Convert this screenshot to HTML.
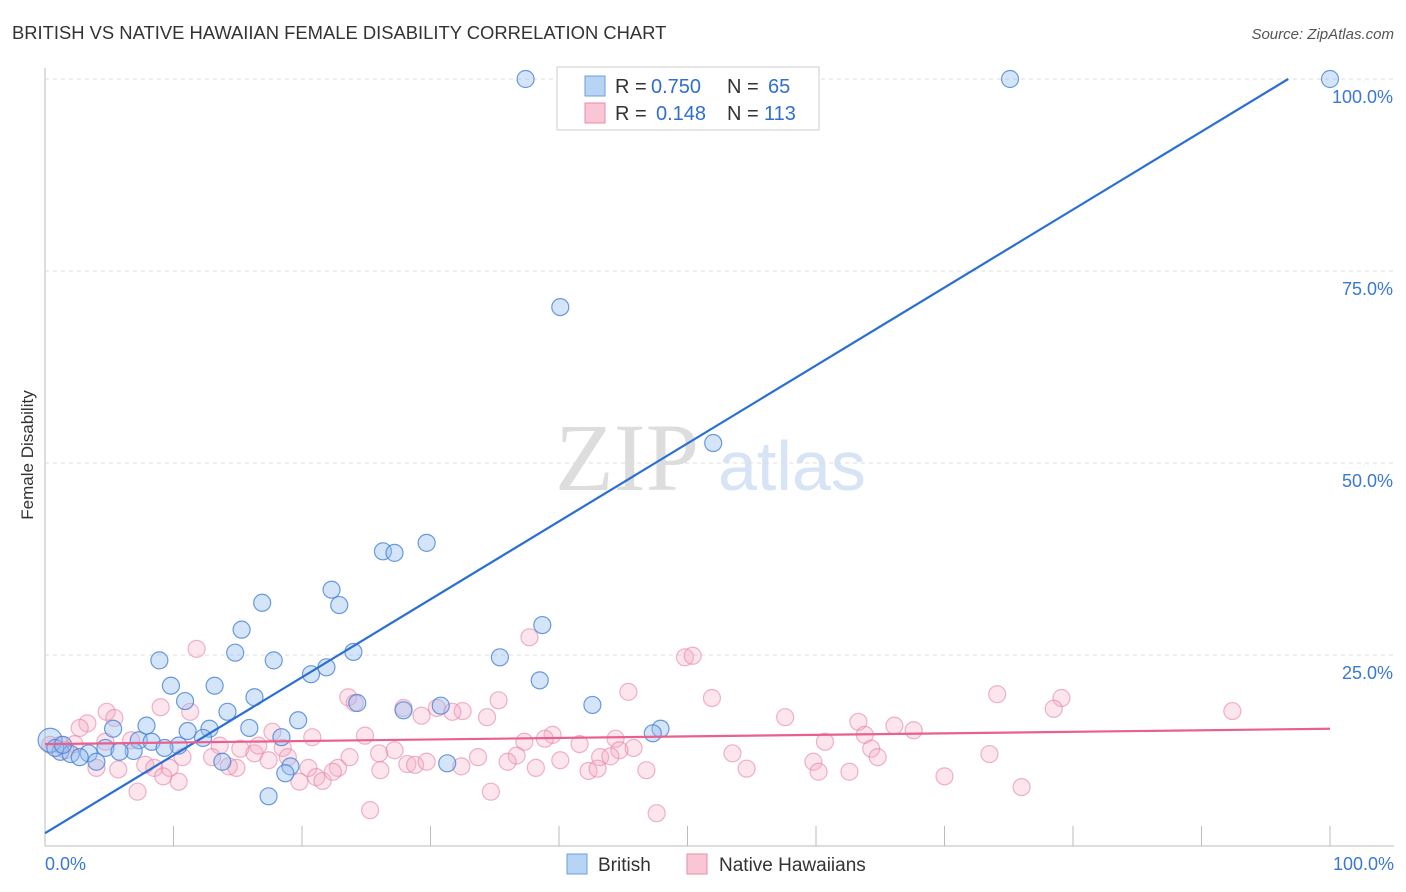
<!DOCTYPE html>
<html><head><meta charset="utf-8"><style>
body{margin:0;background:#fff;font-family:"Liberation Sans",sans-serif}
svg{display:block}
</style></head><body>
<svg id="c" width="1406" height="892" xmlns="http://www.w3.org/2000/svg">
<text x="12" y="39" font-size="18.4" fill="#333">BRITISH VS NATIVE HAWAIIAN FEMALE DISABILITY CORRELATION CHART</text>
<text x="1394" y="39" font-size="15" fill="#555" font-style="italic" text-anchor="end">Source: ZipAtlas.com</text>
<text transform="translate(33,455) rotate(-90)" font-size="17" fill="#333" text-anchor="middle">Female Disability</text>
<g><text x="555" y="490" font-size="96" fill="#ddd" font-family="Liberation Serif">ZIP</text><text x="718" y="490" font-size="70" fill="#d6e4f5">atlas</text></g>
<g id="axes"></g>
<g id="marks"></g>
<g>
<rect x="557" y="67" width="262" height="63" fill="#fff" stroke="#ccc"/>
<rect x="585" y="76" width="20" height="20" fill="#b8d4f4" stroke="#6a9ee0"/>
<rect x="585" y="103" width="20" height="20" fill="#f9c6d6" stroke="#e98aa9"/>
<g font-size="20" fill="#333">
<text x="615" y="93">R =</text><text x="651" y="93" fill="#2f6fd0">0.750</text><text x="727" y="93">N =</text><text x="768" y="93" fill="#2f6fd0">65</text>
<text x="615" y="120">R =</text><text x="656" y="120" fill="#2f6fd0">0.148</text><text x="727" y="120">N =</text><text x="764" y="120" fill="#2f6fd0">113</text>
</g>
</g>
<g>
<rect x="567" y="854" width="20" height="20" fill="#b8d4f4" stroke="#6a9ee0"/>
<text x="598" y="871" font-size="19" fill="#333">British</text>
<rect x="687" y="854" width="20" height="20" fill="#f9c6d6" stroke="#e98aa9"/>
<text x="719" y="871" font-size="19" fill="#333">Native Hawaiians</text>
</g>
</svg>
<script>
const yTicks=[25,50,75,100];
const yTickLabels=["25.0%","50.0%","75.0%","100.0%"];
const xTickLabels=["0.0%","100.0%"];
const britishX=[37.4,75.1,100,40.1,52.0,26.3,27.2,29.7,22.3,22.9,16.9,15.3,38.7,14.8,24.0,8.9,17.8,35.4,21.9,20.7,38.5,9.8,13.2,10.9,16.3,24.3,30.8,27.9,42.6,14.2,19.7,7.9,12.8,15.9,11.1,47.9,47.3,5.3,7.3,8.3,12.3,18.4,10.4,9.3,4.7,6.9,3.4,5.8,1.2,2.0,2.7,4.0,13.8,31.3,19.1,18.7,17.4,0.4,0.8,1.4];
const britishY=[100,100,100,70.3,52.6,38.5,38.3,39.6,33.5,31.5,31.8,28.3,28.9,25.3,25.4,24.3,24.3,24.7,23.4,22.5,21.7,21.0,21.0,19.0,19.5,18.75,18.4,17.8,18.5,17.6,16.5,15.8,15.4,15.5,15.1,15.4,14.8,15.4,13.9,13.7,14.2,14.3,13.2,12.9,12.9,12.5,12.2,12.4,12.4,12.1,11.7,11.1,11.1,10.9,10.5,9.6,6.6,13.9,12.9,13.3];
const hawaiianX=[11.8,37.7,49.8,50.4,45.4,51.9,74.1,79.1,78.5,92.4,35.3,23.6,24.1,9.0,4.8,5.4,11.3,27.9,30.5,32.5,31.7,34.4,29.3,57.6,63.3,66.1,67.6,3.3,2.7,24.9,20.8,17.7,39.5,38.9,44.4,63.8,60.7,37.3,41.6,45.8,44.7,64.3,53.5,73.5,36.7,27.2,26.0,13.6,15.2,16.3,18.5,16.6,2.3,1.2,4.7,6.7,23.7,18.9,17.4,10.7,13.0,33.7,36.0,40.1,43.2,44.0,59.8,64.8,7.8,8.5,9.7,4.0,14.9,20.5,22.8,14.3,28.2,28.8,29.7,32.4,26.1,5.7,38.2,54.6,60.2,62.6,70.0,42.3,43.0,46.8,9.2,10.4,19.8,21.1,21.6,22.4,76.0,7.2,34.7,25.3,47.6,0.4,1.6];
const hawaiianY=[25.8,27.3,24.7,24.9,20.2,19.4,19.9,19.4,18.0,17.7,19.1,19.5,18.75,18.2,17.6,16.8,17.6,18.1,18.1,17.7,17.6,16.9,17.1,16.9,16.3,15.8,15.2,16.1,15.5,14.5,14.3,15.0,14.6,14.1,14.1,14.6,13.7,13.7,13.4,12.9,12.6,12.8,12.2,12.1,11.9,12.6,12.2,13.2,12.8,12.2,12.9,13.2,13.4,13.3,13.7,13.9,11.7,11.7,11.3,11.7,11.7,11.7,11.1,11.3,11.7,11.8,11.1,11.7,10.7,10.3,10.3,10.3,10.3,10.3,10.3,10.5,10.8,10.7,11.1,10.5,10.0,10.1,10.3,10.2,9.8,9.8,9.2,9.9,10.2,10.0,9.2,8.5,8.5,9.1,8.6,9.8,7.8,7.2,7.2,4.8,4.4,13.3,12.6];
const britishTrend=[1.8,103.3];
const hawaiianTrend=[13.4,15.4];
const X0=45,X1=1330,Y0=847,Y100=79;
const sx=v=>X0+(X1-X0)*v/100, sy=v=>Y0-(Y0-Y100)*v/100;
const NS="http://www.w3.org/2000/svg";
function mk(t,a,p){const e=document.createElementNS(NS,t);for(const k in a)e.setAttribute(k,a[k]);p.appendChild(e);return e;}
const axes=document.getElementById('axes'),marks=document.getElementById('marks');
let l=mk('line',{x1:45,y1:68,x2:45,y2:846,stroke:'#bbb'},axes);

l=mk('line',{x1:45,y1:846,x2:1394,y2:846,stroke:'#bbb'},axes);

yTicks.forEach((v,i)=>{
 const g=mk('line',{x1:45,y1:sy(v),x2:1394,y2:sy(v),stroke:'#ddd','stroke-dasharray':'4,4'},axes);
 
 const t=mk('text',{x:1393,y:sy(v)+24,'font-size':18,fill:'#3a78d4','text-anchor':'end'},axes);t.textContent=yTickLabels[i];
 
});
for(let i=1;i<=10;i++){const x=sx(i*10);const t=mk('line',{x1:x,y1:826,x2:x,y2:846,stroke:'#bbb'},axes);
 }
[[0,'start',45],[1,'end',1394]].forEach(([i,a,x])=>{const t=mk('text',{x:x,y:870,'font-size':18,fill:'#3a78d4','text-anchor':a},axes);t.textContent=xTickLabels[i];
 });
hawaiianX.forEach((x,i)=>{const c=mk('circle',{cx:sx(x),cy:sy(hawaiianY[i]),r:8.5,fill:'rgba(244,170,196,0.3)',stroke:'rgba(230,130,165,0.6)','stroke-width':1.2},marks);
 });
britishX.forEach((x,i)=>{const c=mk('circle',{cx:sx(x),cy:sy(britishY[i]),r:i==57?12:8.5,fill:'rgba(150,190,240,0.4)',stroke:'rgba(70,130,215,0.8)','stroke-width':1.2},marks);
 });
const bx1=(100-britishTrend[0])/(britishTrend[1]-britishTrend[0])*100;
l=mk('line',{x1:sx(0),y1:sy(britishTrend[0]),x2:sx(bx1),y2:sy(100),stroke:'#2a6fd4','stroke-width':2.2},marks);

l=mk('line',{x1:sx(0),y1:sy(hawaiianTrend[0]),x2:sx(100),y2:sy(hawaiianTrend[1]),stroke:'#e8608e','stroke-width':2.2},marks);

</script>
</body></html>
